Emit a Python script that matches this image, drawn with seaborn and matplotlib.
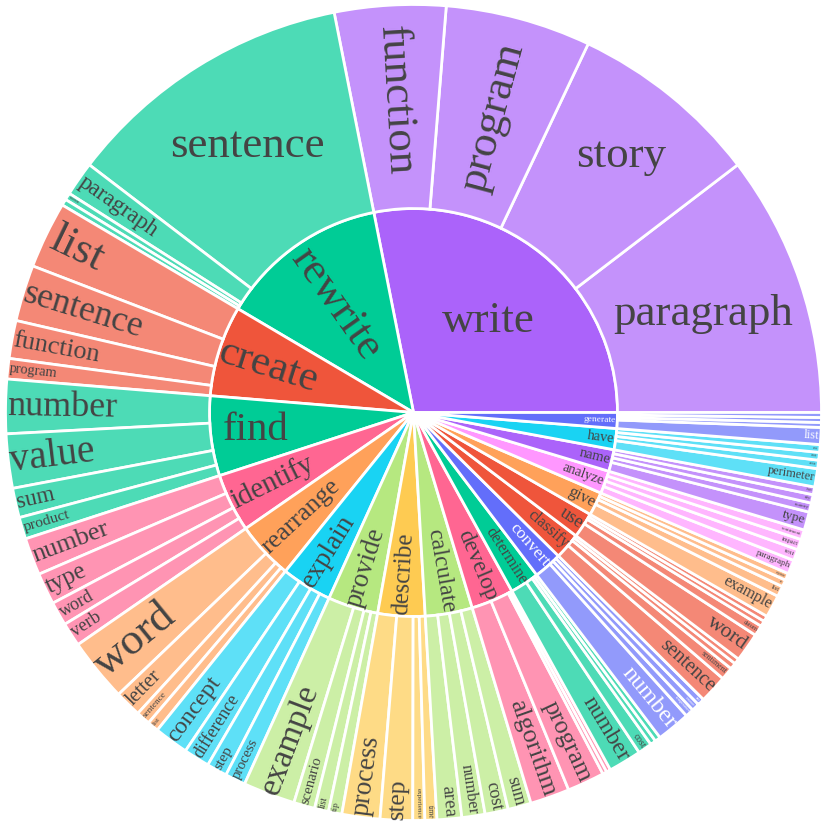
import numpy as np
import pandas as pd
import matplotlib
matplotlib.use("Agg")
import matplotlib.pyplot as plt
import seaborn as sns
from matplotlib.patches import Wedge
from matplotlib.textpath import TextPath
from matplotlib.font_manager import FontProperties
from matplotlib.colors import to_rgb

# ---------------- data ----------------
verbs = ["write", "rewrite", "create", "find", "identify", "rearrange", "explain",
         "provide", "describe", "calculate", "develop", "determine", "convert",
         "classify", "use", "give", "analyze", "name", "have", "generate"]
verb_colors = ["#AB63FA", "#00CC96", "#EF553B", "#00CC96", "#FF6692", "#FFA15A",
               "#19D3F3", "#B6E880", "#FECB52", "#B6E880", "#FF6692", "#00CC96",
               "#636EFA", "#EF553B", "#EF553B", "#FFA15A", "#FF97FF", "#AB63FA",
               "#19D3F3", "#636EFA"]
nouns_per_verb = 4
leaf_noun = [
    "paragraph", "story", "program", "function",
    "sentence", "paragraph", "statement", "text",
    "list", "sentence", "function", "program",
    "number", "value", "sum", "product",
    "number", "type", "word", "verb",
    "word", "letter", "sentence", "list",
    "concept", "difference", "step", "process",
    "example", "scenario", "list", "tip",
    "process", "step", "experience", "time",
    "area", "number", "cost", "sum",
    "algorithm", "program", "plan", "app",
    "number", "cost", "sentiment", "product",
    "number", "temperature", "sentence", "time",
    "sentence", "sentiment", "statement", "text",
    "word", "datum", "information", "following",
    "example", "list", "set", "response",
    "paragraph", "text", "impact", "sentiment",
    "type", "country", "city", "fruit",
    "perimeter", "area", "root", "sea",
    "list", "name", "idea", "story"]
leaf_count = [
    373, 272, 207, 158,
    413, 49, 10, 9,
    95, 80, 54, 29,
    77, 77, 42, 31,
    53, 45, 34, 34,
    90, 38, 20, 16,
    49, 37, 29, 29,
    74, 30, 20, 19,
    54, 46, 17, 17,
    35, 33, 33, 33,
    56, 53, 6, 6,
    47, 20, 8, 8,
    48, 12, 11, 10,
    40, 18, 9, 8,
    41, 15, 8, 8,
    32, 15, 10, 10,
    20, 16, 15, 14,
    26, 13, 12, 11,
    26, 12, 11, 11,
    24, 7, 7, 7]

leaf_verb = [v for v in verbs for _ in range(nouns_per_verb)]

# ---------------- setup ----------------
sns.set_theme(style="white")
plt.rcParams['font.family'] = ['Liberation Serif', 'DejaVu Serif']
palette = sns.color_palette(verb_colors)

df = pd.DataFrame({"verb": leaf_verb, "noun": leaf_noun, "count": leaf_count})
verb_tot = df.groupby("verb", sort=False)["count"].sum().reindex(verbs)
total = float(verb_tot.sum())

W = 830
fig = plt.figure(figsize=(8.3, 8.3), dpi=100)
ax = fig.add_axes([0, 0, 1, 1])
ax.set_xlim(0, W)
ax.set_ylim(0, W)
ax.set_aspect("equal")
ax.axis("off")

CX, CY = 413.5, W - 412.5
R1, R2 = 204.0, 408.0
MAXFS = 45.0      # displayed font size cap (px)
FITMAX = 400.0    # search bound for the uncapped fit
HF = 1.0
PAD = 2.0
LW = 2.0
fp = FontProperties(family="Liberation Serif")
_wcache = {}


def wfac(s):
    if s not in _wcache:
        tp = TextPath((0, 0), s, size=100, prop=fp)
        _wcache[s] = tp.get_extents().width / 100.0
    return _wcache[s]


def box_ok(px, py, w, h, r0, r1, t0, t1):
    n = 12
    xs = np.concatenate([np.linspace(px - w / 2, px + w / 2, n)] * 2 +
                        [np.full(n, px - w / 2), np.full(n, px + w / 2)])
    ys = np.concatenate([np.full(n, py - h / 2), np.full(n, py + h / 2)] +
                        [np.linspace(py - h / 2, py + h / 2, n)] * 2)
    r = np.hypot(xs, ys)
    if r.max() > r1 - PAD or r.min() < r0 + PAD:
        return False
    e0 = (np.cos(t0), np.sin(t0))
    e1 = (np.cos(t1), np.sin(t1))
    d0 = e0[0] * ys - e0[1] * xs
    d1 = xs * e1[1] - ys * e1[0]
    return d0.min() >= PAD and d1.min() >= PAD


def fit_h(s, r0, r1, t0, t1):
    wf = wfac(s)
    tm = (t0 + t1) / 2
    cands = np.linspace(r0 + 0.1 * (r1 - r0), r1 - 0.1 * (r1 - r0), 21)
    best = (0.0, (r0 + r1) / 2)
    for rc in cands:
        px, py = rc * np.cos(tm), rc * np.sin(tm)
        lo, hi = 0.0, FITMAX
        for _ in range(26):
            m = (lo + hi) / 2
            if box_ok(px, py, wf * m, HF * m, r0, r1, t0, t1):
                lo = m
            else:
                hi = m
        if lo > best[0]:
            best = (lo, rc)
    return best


def fit_r(s, r0, r1, dth):
    wf = wfac(s)
    a = dth / 2

    def ok(fs):
        w, h = wf * fs, HF * fs
        rout = r1 - PAD
        rin = rout - w
        if rin < r0 + PAD:
            return False
        if rin * np.sin(a) - (h / 2) * np.cos(a) < PAD:
            return False
        if rout ** 2 + (h / 2) ** 2 > (r1 - 0.5) ** 2:
            return False
        return True

    lo, hi = 0.0, FITMAX
    for _ in range(34):
        m = (lo + hi) / 2
        if ok(m):
            lo = m
        else:
            hi = m
    return lo


def brightness(c):
    r, g, b = [v * 255 for v in to_rgb(c)]
    return (r * 299 + g * 587 + b * 114) / 1000


def label(s, r0, r1, t0d, t1d, base_color):
    t0, t1 = np.radians(t0d), np.radians(t1d)
    tm = (t0 + t1) / 2
    tcol = "white" if brightness(base_color) < 128 else "#444444"
    fam = ["Liberation Serif", "DejaVu Serif"]
    fs_h, rc = fit_h(s, r0, r1, t0, t1)
    if fs_h >= 0.9 * MAXFS:
        x, y = CX + rc * np.cos(tm), CY + rc * np.sin(tm)
        ax.text(x, y, s, fontsize=min(fs_h, MAXFS) * 0.72, color=tcol,
                ha="center", va="center", rotation=0, family=fam)
        return
    fs_fit = fit_r(s, r0, r1, t1 - t0)
    fs = min(fs_fit, MAXFS)
    if fs < 2.5:
        return
    rcen = r1 - PAD - wfac(s) * fs_fit / 2
    x, y = CX + rcen * np.cos(tm), CY + rcen * np.sin(tm)
    deg = np.degrees(tm) % 360
    rot = deg if np.cos(tm) >= 0 else deg - 180
    if rot > 180:
        rot -= 360
    ax.text(x, y, s, fontsize=fs * 0.72, color=tcol, ha="center", va="center",
            rotation=rot, rotation_mode="anchor", family=fam)


def lighten(c, a=0.7):
    rgb = np.array(to_rgb(c))
    return tuple(a * rgb + (1 - a) * 1.0)


# ---------------- draw ----------------
ang = 0.0
for vi, v in enumerate(verbs):
    col = palette[vi]
    span = verb_tot[v] / total * 360.0
    t0, t1 = ang, ang + span
    ax.add_patch(Wedge((CX, CY), R1, t0, t1, facecolor=col, edgecolor="white", lw=LW))
    label(v, 0.0, R1, t0, t1, verb_colors[vi])
    sub = df[df["verb"] == v]
    a2 = t0
    for _, row in sub.iterrows():
        sp = row["count"] / total * 360.0
        ax.add_patch(Wedge((CX, CY), R2, a2, a2 + sp, width=R2 - R1,
                           facecolor=lighten(verb_colors[vi]), edgecolor="white", lw=LW))
        label(row["noun"], R1, R2, a2, a2 + sp, verb_colors[vi])
        a2 += sp
    ang = t1

fig.savefig("out.png", dpi=100, facecolor="white")
